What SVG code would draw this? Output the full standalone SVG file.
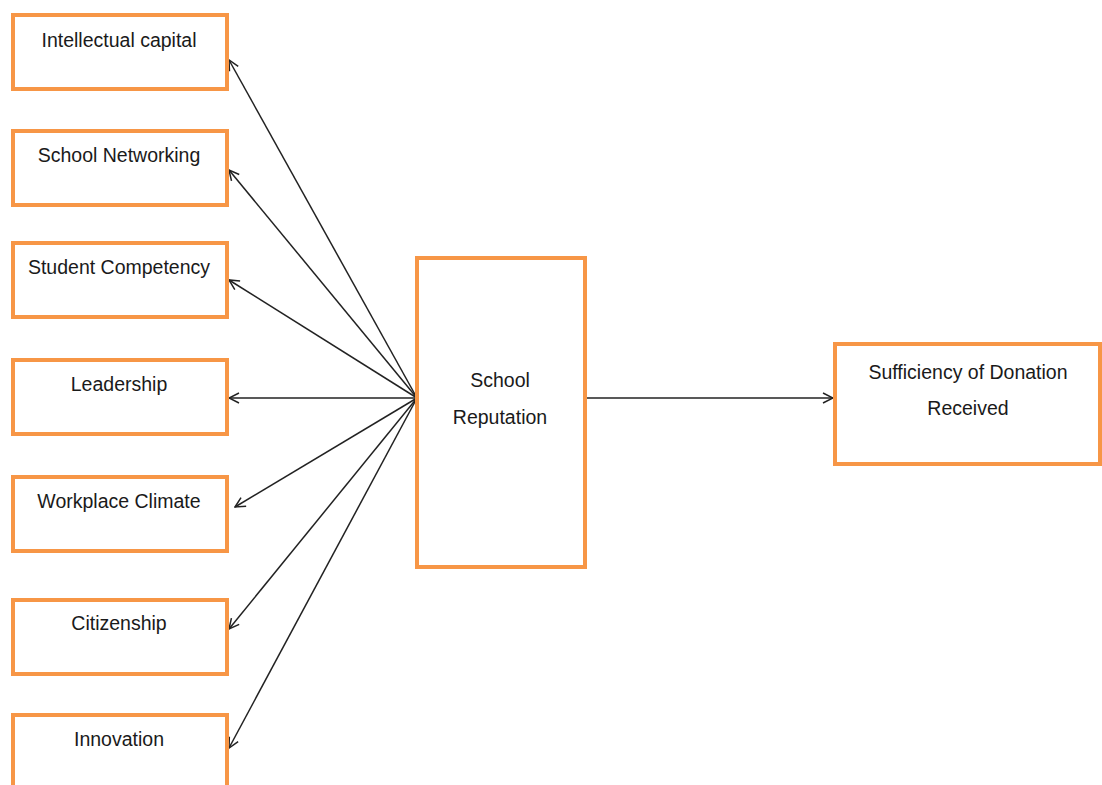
<svg xmlns="http://www.w3.org/2000/svg" width="1102" height="785" viewBox="0 0 1102 785">
<style>
.box{fill:#fff;stroke:#F79646;stroke-width:4}
.t{font-family:"Liberation Sans",Arial,sans-serif;font-size:19.5px;fill:#1a1a1a;text-anchor:middle}
.c{stroke:#222;stroke-width:1.5;fill:none;marker-end:url(#ah)}
</style>
<defs>
<marker id="ah" viewBox="0 0 12 12" refX="11" refY="6" markerWidth="12" markerHeight="12" markerUnits="userSpaceOnUse" orient="auto">
<path d="M1,1 L11,6 L1,11" fill="none" stroke="#222" stroke-width="1.5"/>
</marker>
</defs>
<rect width="1102" height="785" fill="#fff"/>
<g id="connectors">
<line class="c" x1="417" y1="398" x2="229" y2="60"/>
<line class="c" x1="417" y1="398" x2="229" y2="170"/>
<line class="c" x1="417" y1="398" x2="229" y2="280"/>
<line class="c" x1="417" y1="398" x2="229" y2="398"/>
<line class="c" x1="417" y1="398" x2="235" y2="507"/>
<line class="c" x1="417" y1="398" x2="229" y2="629"/>
<line class="c" x1="417" y1="398" x2="229" y2="748"/>
<line class="c" x1="587" y1="398" x2="833" y2="398"/>
</g>
<g id="n1"><rect class="box" x="13" y="15" width="214" height="74"/><text class="t" x="119" y="47">Intellectual capital</text></g>
<g id="n2"><rect class="box" x="13" y="131" width="214" height="74"/><text class="t" x="119" y="162">School Networking</text></g>
<g id="n3"><rect class="box" x="13" y="243" width="214" height="74"/><text class="t" x="119" y="274">Student Competency</text></g>
<g id="n4"><rect class="box" x="13" y="360" width="214" height="74"/><text class="t" x="119" y="391">Leadership</text></g>
<g id="n5"><rect class="box" x="13" y="477" width="214" height="74"/><text class="t" x="119" y="508">Workplace Climate</text></g>
<g id="n6"><rect class="box" x="13" y="600" width="214" height="74"/><text class="t" x="119" y="630">Citizenship</text></g>
<g id="n7"><rect class="box" x="13" y="715" width="214" height="74"/><text class="t" x="119" y="746">Innovation</text></g>
<g id="n8"><rect class="box" x="417" y="258" width="168" height="309"/><text class="t" x="500" y="387">School</text><text class="t" x="500" y="424">Reputation</text></g>
<g id="n9"><rect class="box" x="835" y="344" width="265" height="120"/><text class="t" x="968" y="379">Sufficiency of Donation</text><text class="t" x="968" y="415">Received</text></g>
</svg>
